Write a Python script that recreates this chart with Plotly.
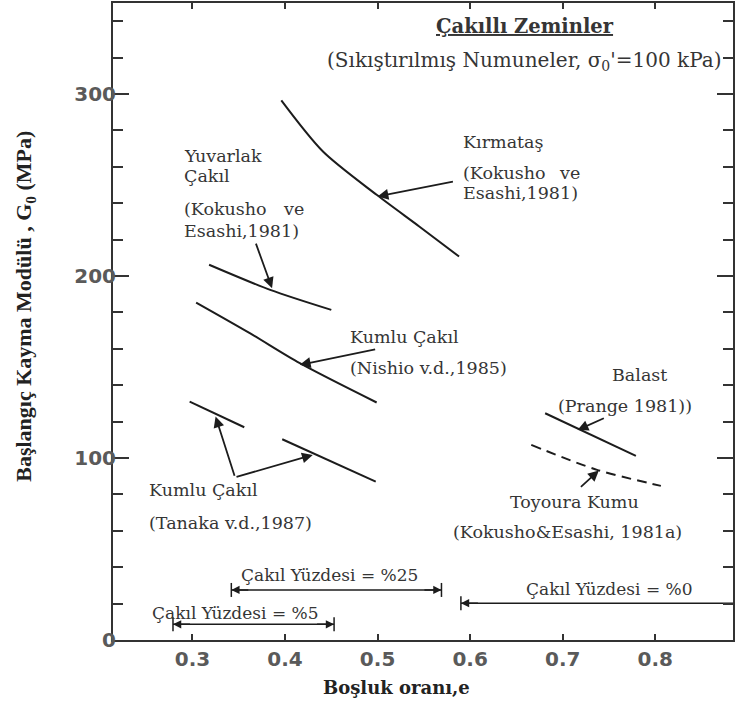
import plotly.graph_objects as go

# ---------------- data ----------------
kirmatas_e = [0.396, 0.441, 0.499, 0.545, 0.588]
kirmatas_g = [296.5, 268.4, 244.6, 227.2, 210.7]

yuvarlak_e = [0.318, 0.384, 0.450]
yuvarlak_g = [206.2, 192.4, 181.4]

nishio_e = [0.304, 0.362, 0.416, 0.499]
nishio_g = [185.4, 168.6, 152.1, 130.5]

tanaka1_e = [0.297, 0.356]
tanaka1_g = [131.0, 116.9]
tanaka2_e = [0.397, 0.498]
tanaka2_g = [110.3, 87.0]

balast_e = [0.681, 0.779]
balast_g = [124.6, 101.2]

toyoura_e = [0.666, 0.737, 0.806]
toyoura_g = [107.2, 93.5, 84.7]

range_labels = ["Çakıl Yüzdesi = %25", "Çakıl Yüzdesi = %5", "Çakıl Yüzdesi = %0"]
range_start = [0.342, 0.279, 0.590]
range_end = [0.569, 0.453, 0.900]
range_level = [27.5, 8.6, 20.2]
range_closed = [True, True, False]

x_ticks = [0.3, 0.4, 0.5, 0.6, 0.7, 0.8]
x_ticktext = ["0.3", "0.4", "0.5", "0.6", "0.7", "0.8"]
y_ticks = [0, 100, 200, 300]
y_ticktext = ["0", "100", "200", "300"]

# ---------------- figure ----------------
LINE = "#1c1c1c"
TXT = "#353535"
SERIF = "DejaVu Serif"
LSIZE = 17.5

fig = go.Figure()

def curve(xs, ys, dash="solid"):
    fig.add_trace(go.Scatter(x=xs, y=ys, mode="lines", showlegend=False,
                             line=dict(color=LINE, width=2, dash=dash, shape="spline",
                                       smoothing=0.8),
                             hoverinfo="skip"))

curve(kirmatas_e, kirmatas_g)
curve(yuvarlak_e, yuvarlak_g)
curve(nishio_e, nishio_g)
curve(tanaka1_e, tanaka1_g)
curve(tanaka2_e, tanaka2_g)
curve(balast_e, balast_g)
curve(toyoura_e, toyoura_g, dash="10px,6px")

annotations = []

def label(text, x, y, anchor="left", size=LSIZE, bold=False):
    annotations.append(dict(x=x, y=y, xref="x", yref="y", text=text, showarrow=False,
                            xanchor=anchor, yanchor="middle",
                            font=dict(family=SERIF, size=size, color=TXT,
                                      weight="bold" if bold else "normal")))

def arrow(x_tail, y_tail, x_head, y_head, width=1.8, size=1.2):
    annotations.append(dict(x=x_head, y=y_head, ax=x_tail, ay=y_tail,
                            xref="x", yref="y", axref="x", ayref="y",
                            text="", showarrow=True, arrowhead=2, arrowsize=size,
                            arrowwidth=width, arrowcolor=LINE, standoff=0))

# gravel percentage ranges
for lab, s, e, lvl, closed in zip(range_labels, range_start, range_end, range_level, range_closed):
    fig.add_trace(go.Scatter(x=[s, e], y=[lvl, lvl], mode="lines", showlegend=False,
                             line=dict(color=LINE, width=1.5), hoverinfo="skip"))
    caps_x = [s, e] if closed else [s]
    fig.add_trace(go.Scatter(x=caps_x, y=[lvl] * len(caps_x), mode="markers", showlegend=False,
                             marker=dict(symbol="line-ns", size=10,
                                         line=dict(color=LINE, width=1.5)),
                             hoverinfo="skip"))
    arrow(s + 0.02, lvl, s, lvl, width=1.5, size=1.1)
    if closed:
        arrow(e - 0.02, lvl, e, lvl, width=1.5, size=1.1)

# text labels
label("<u>Çakıllı Zeminler</u>", 0.659, 337.2, anchor="center", size=19.5, bold=True)
label("(Sıkıştırılmış Numuneler, σ<sub>0</sub>'=100 kPa)", 0.658, 318.1, anchor="center", size=20)

label("Kırmataş", 0.590, 273.9)
label("(Kokusho", 0.590, 256.6)
label("ve", 0.721, 256.6, anchor="right")
label("Esashi,1981)", 0.590, 245.6)
arrow(0.583, 252.0, 0.500, 243.7)

label("Yuvarlak", 0.289, 266.1)
label("Çakıl", 0.289, 254.7)
label("(Kokusho", 0.289, 236.9)
label("ve", 0.423, 236.9, anchor="right")
label("Esashi,1981)", 0.289, 224.5)
arrow(0.368, 218.6, 0.386, 193.3)

label("Kumlu Çakıl", 0.468, 166.7)
label("(Nishio v.d.,1985)", 0.468, 149.4)
arrow(0.499, 159.8, 0.416, 151.2)

label("Kumlu Çakıl", 0.251, 82.5)
label("(Tanaka v.d.,1987)", 0.251, 64.3)
arrow(0.346, 89.4, 0.325, 122.8)
arrow(0.346, 89.4, 0.430, 101.7)

label("Balast", 0.783, 145.7, anchor="center")
label("(Prange 1981))", 0.767, 128.3, anchor="center")
arrow(0.746, 122.2, 0.716, 115.4)

label("Toyoura Kumu", 0.713, 76.0, anchor="center")
label("(Kokusho&Esashi, 1981a)", 0.705, 59.4, anchor="center")
arrow(0.718, 83.4, 0.739, 93.1)

label(range_labels[0], 0.448, 35.7, anchor="center", size=17)
label(range_labels[1], 0.347, 15.0, anchor="center", size=17)
label(range_labels[2], 0.751, 28.0, anchor="center", size=17)

# axis titles
annotations.append(dict(x=-0.141, y=0.524, xref="paper", yref="paper",
                        text="Başlangıç Kayma Modülü , G<sub>0</sub> (MPa)", textangle=-90,
                        showarrow=False, xanchor="center", yanchor="middle",
                        font=dict(family="Liberation Serif", size=22, color="#222", weight="bold")))
annotations.append(dict(x=0.4566, y=-0.075, xref="paper", yref="paper",
                        text="Boşluk oranı,e", showarrow=False, xanchor="center", yanchor="middle",
                        font=dict(family=SERIF, size=18, color="#222", weight="bold")))

TICKFONT = dict(family="DejaVu Sans", size=20, color="#5a5a5a", weight="bold")

fig.update_layout(
    width=736, height=702,
    margin=dict(l=113, r=1, t=3, b=62),
    paper_bgcolor="white", plot_bgcolor="white",
    annotations=annotations,
    xaxis=dict(range=[0.2142, 0.8839], tickvals=x_ticks, ticktext=x_ticktext,
               ticks="inside", ticklen=6, tickwidth=1.5, tickcolor="#333",
               showline=True, linewidth=2, linecolor="#333", mirror="ticks",
               showgrid=False, zeroline=False, tickfont=TICKFONT),
    yaxis=dict(range=[0, 350], tickvals=y_ticks, ticktext=y_ticktext,
               ticks="inside", ticklen=16, tickwidth=1.5, tickcolor="#333",
               minor=dict(dtick=20, tick0=0, ticks="inside", ticklen=10, tickwidth=1.5,
                          tickcolor="#333", showgrid=False),
               showline=True, linewidth=2, linecolor="#333", mirror="ticks",
               showgrid=False, zeroline=False, tickfont=TICKFONT,
               ticklabelstandoff=-9),
)

fig.write_html("out.html")
